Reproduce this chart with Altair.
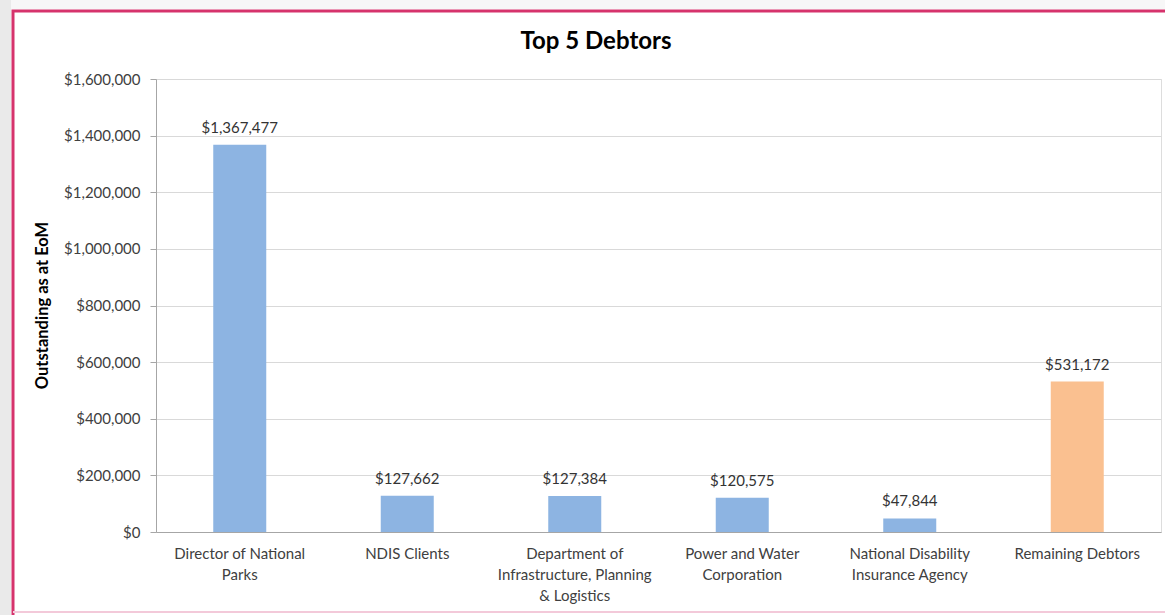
import altair as alt
import pandas as pd

categories = [
    "Director of National Parks",
    "NDIS Clients",
    "Department of Infrastructure, Planning & Logistics",
    "Power and Water Corporation",
    "National Disability Insurance Agency",
    "Remaining Debtors",
]
label_lines = [
    "Director of National\nParks",
    "NDIS Clients",
    "Department of\nInfrastructure, Planning\n& Logistics",
    "Power and Water\nCorporation",
    "National Disability\nInsurance Agency",
    "Remaining Debtors",
]
values = [1367477, 127662, 127384, 120575, 47844, 531172]
groups = ["top", "top", "top", "top", "top", "rest"]
title_text = "Top 5 Debtors"

df = pd.DataFrame({"cat": categories, "value": values, "group": groups, "lab": label_lines})

FONT = "Lato"
W, H = 1005, 453

label_map = "{" + ",".join(
    "'" + c.replace("'", "\\'") + "':'" + l.replace("\n", "|") + "'" for c, l in zip(categories, label_lines)
) + "}"

x_enc = alt.X(
    "cat:N",
    sort=categories,
    title=None,
    axis=alt.Axis(
        labelAngle=0,
        labelExpr="split(" + label_map + "[datum.label], '|')",
        labelFontSize=15,
        labelColor="#404040",
        labelPadding=21,
        labelLineHeight=21,
        labelFont=FONT,
        ticks=False,
        domainColor="#a6a6a6",
        labelBaseline="middle",
    ),
)
y_enc = alt.Y(
    "value:Q",
    scale=alt.Scale(domain=[0, 1600000], nice=False),
    title="Outstanding as at EoM",
    axis=alt.Axis(
        values=list(range(0, 1600001, 200000)),
        format="$,.0f",
        labelFontSize=15,
        labelColor="#404040",
        labelFont=FONT,
        tickSize=6,
        tickColor="#a6a6a6",
        labelPadding=10,
        domainColor="#a6a6a6",
        gridColor="#d9d9d9",
        titleFont=FONT,
        titleFontSize=16.5,
        titleFontWeight="bold",
        titleColor="#000000",
        titleX=-114,
        titleY=226,
        titleAngle=270,
        titleAlign="center",
        titleBaseline="middle",
    ),
)

bars = alt.Chart(df).mark_bar(size=53).encode(
    x=x_enc,
    y=y_enc,
    color=alt.Color(
        "group:N",
        scale=alt.Scale(domain=["top", "rest"], range=["#8DB4E2", "#FAC090"]),
        legend=None,
    ),
)
texts = alt.Chart(df).mark_text(
    dy=-17, fontSize=15, font=FONT, color="#333333", baseline="middle"
).encode(
    x=alt.X("cat:N", sort=categories),
    y="value:Q",
    text=alt.Text("value:Q", format="$,.0f"),
)

one = pd.DataFrame({"a": [0]})
tdf = pd.DataFrame({"t": [title_text]})
left_strip = alt.Chart(one).mark_rect(color="#eaeaea", clip=False).encode(
    x=alt.value(-156), x2=alt.value(-145), y=alt.value(-79), y2=alt.value(536)
)
top_strip = alt.Chart(one).mark_rect(color="#f7f7f7", clip=False).encode(
    x=alt.value(-145), x2=alt.value(1009), y=alt.value(-79), y2=alt.value(-70)
)
border = alt.Chart(one).mark_rect(
    fillOpacity=0, stroke="#d6336c", strokeWidth=3, clip=False
).encode(
    x=alt.value(-143), x2=alt.value(1030), y=alt.value(-68), y2=alt.value(540)
)
bottom_line = alt.Chart(one).mark_rule(color="#f3c9d9", strokeWidth=2, clip=False).encode(
    x=alt.value(-143), x2=alt.value(1009), y=alt.value(533), y2=alt.value(533)
)
title = alt.Chart(tdf).mark_text(
    font=FONT, fontSize=24, fontWeight="bold", color="#000000",
    align="center", baseline="middle", clip=False,
).encode(x=alt.value(440), y=alt.value(-37), text="t:N")

chart = alt.layer(left_strip, top_strip, border, bottom_line, bars, texts, title).properties(
    width=W,
    height=H,
    autosize=alt.AutoSizeParams(type="none"),
    padding={"left": 156, "top": 79, "right": 4, "bottom": 83},
).configure_view(stroke=None).configure(background="#ffffff")

chart.save("out.html", embed_options={"renderer": "svg", "actions": False})
